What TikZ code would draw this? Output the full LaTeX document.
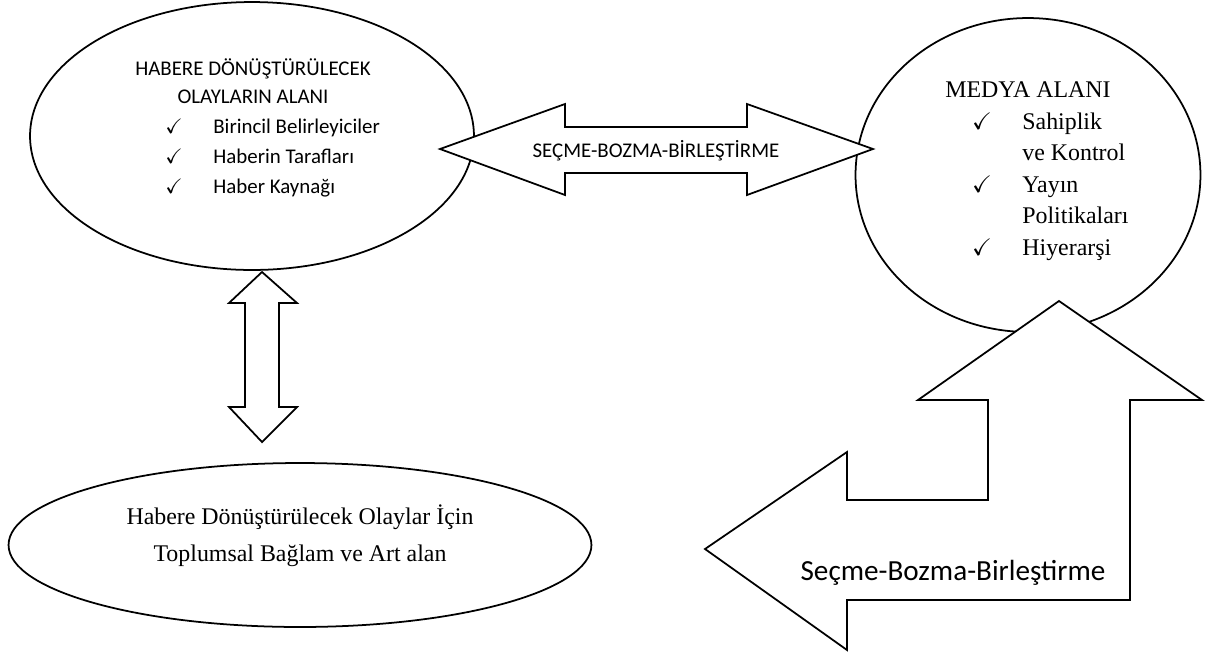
\documentclass[tikz,border=0pt]{standalone}
\usepackage{amssymb}
\usepackage{fontspec}
\setmainfont{Liberation Serif}
\newfontfamily\calibri{Carlito}
\usetikzlibrary{shapes.geometric}

\tikzset{
  outline/.style={draw=black, line width=1pt},
  blockarrow/.style={outline, fill=white, line join=miter},
  sanstext/.style={font=\calibri\fontsize{11.9}{14}\selectfont, inner sep=0pt, anchor=base},
  seriftext/.style={font=\fontsize{13.6}{16}\selectfont, inner sep=0pt, anchor=base},
}

\begin{document}
\begin{tikzpicture}[x=0.02cm, y=-0.02cm]
  \useasboundingbox (0,0) rectangle (1205,657);

  % the three fields
  \node[outline, ellipse, minimum width=8.88cm, minimum height=5.36cm] (olay) at (252,136) {};
  \node[outline, ellipse, minimum width=6.9cm, minimum height=6.28cm] (medya) at (1028,175) {};
  \node[outline, ellipse, minimum width=11.66cm, minimum height=3.28cm] (baglam) at (300,545) {};

  % block arrows
  \draw[blockarrow] (440,149) -- (565,104) -- (565,127) -- (747,127) -- (747,104) -- (873,149)
    -- (747,195) -- (747,173) -- (565,173) -- (565,195) -- cycle;
  \draw[blockarrow] (262,272) -- (297,303) -- (279,303) -- (279,407) -- (297,407) -- (262,442)
    -- (229,407) -- (245,407) -- (245,303) -- (229,303) -- cycle;
  \draw[blockarrow] (1059,301) -- (1202,400) -- (1130,400) -- (1130,600) -- (847,600) -- (847,650)
    -- (705,549) -- (847,452) -- (847,500) -- (988,500) -- (988,400) -- (918,400) -- cycle;

  % left field
  \node[sanstext] (olaytitle1) at (253,75) {HABERE DÖNÜŞTÜRÜLECEK};
  \node[sanstext] (olaytitle2) at (253,103) {OLAYLARIN ALANI};
  \foreach \t [count=\i] in {Birincil Belirleyiciler, Haberin Tarafları, Haber Kaynağı}{
    \node[sanstext] (olaychk\i) at (174,103+30*\i) {$\checkmark$};
    \node[sanstext, anchor=base west] (olayitem\i) at (213,103+30*\i) {\t};
  }

  % media field
  \node[seriftext] (medyatitle) at (1028,97) {MEDYA ALANI};
  \foreach \t/\y in {Sahiplik/129, ve Kontrol/160, Yayın/192, Politikaları/223, Hiyerarşi/255}{
    \node[seriftext, anchor=base west] (medya\y) at (1022,\y) {\t};
  }
  \foreach \y in {129,192,255}{
    \node[seriftext] (medyachk\y) at (982,\y) {$\checkmark$};
  }

  % background field
  \node[seriftext] (baglam1) at (300,524) {Habere Dönüştürülecek Olaylar İçin};
  \node[seriftext] (baglam2) at (300,561) {Toplumsal Bağlam ve Art alan};

  % arrow labels
  \node[sanstext] (secme1) at (656,157) {SEÇME-BOZMA-BİRLEŞTİRME};
  \node[sanstext, font=\calibri\fontsize{16.6}{20}\selectfont] (secme2) at (953,580) {Seçme-Bozma-Birleştirme};
\end{tikzpicture}
\end{document}
